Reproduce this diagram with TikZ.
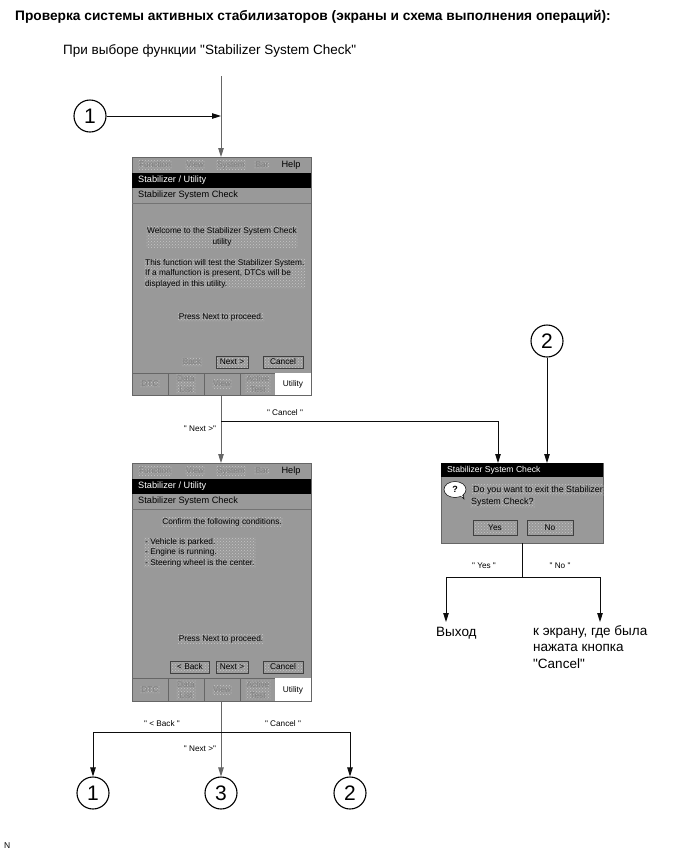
\documentclass[tikz,border=0pt]{standalone}
\usepackage{fontspec}
\setmainfont{Liberation Sans}[Ligatures=TeXOff]
\usetikzlibrary{arrows.meta,patterns}
\definecolor{scr}{gray}{0.6}
\definecolor{flow}{gray}{0.05}
\colorlet{speckc}{white!45!scr}
\tikzset{
  x=1pt,y=-1pt,
  flowline/.style={draw=flow,line width=0.9pt},
  flowarrow/.style={flowline,-{Triangle[length=9pt,width=5.5pt]}},
  callout/.style={circle,draw=black,line width=1.1pt,fill=white,minimum size=32pt,inner sep=0pt,font=\fontsize{21}{21}\selectfont},
  screenbody/.style={fill=scr,draw=black!60,line width=.5pt},
  uitext/.style={font=\fontsize{8.3}{10.5}\selectfont,text=black,inner sep=1pt,align=center},
  bigui/.style={uitext,font=\fontsize{9.2}{11}\selectfont},
  speck/.style={uitext,pattern=crosshatch dots,pattern color=speckc},
  dim/.style={speck,text=black!50},
  btn/.style={draw=black!75,line width=.5pt,uitext,inner sep=0pt,pattern=crosshatch dots,pattern color=speckc},
  lab/.style={font=\fontsize{8.2}{9}\selectfont,inner sep=0pt},
  outtext/.style={font=\fontsize{13.5}{16.5}\selectfont,align=left,anchor=north west,inner sep=0pt},
  tabcell/.style={draw=black!60,line width=.5pt,fill=scr},
}
\begin{document}
\begin{tikzpicture}
\useasboundingbox (0,0) rectangle (690,855);
\fill[white] (0,0) rectangle (690,855);

\node[anchor=west,inner sep=0pt,font=\fontsize{13.72}{14}\selectfont\bfseries] (title) at (15,17) {Проверка системы активных стабилизаторов (экраны и схема выполнения операций):};
\node[anchor=west,inner sep=0pt,font=\fontsize{13.5}{14}\selectfont] (intro) at (63,51) {При выборе функции "Stabilizer System Check"};
\node[anchor=west,inner sep=0pt,font=\fontsize{8.5}{10}\selectfont] (n) at (4,846) {N};

% ---------- screen 1
\node[screenbody,anchor=north west,minimum width=179pt,minimum height=238pt,inner sep=0pt] (s1) at (132,157) {};
\fill[black] (132,172.5) rectangle (311,188);
\node[bigui,text=white,anchor=west] (s1t) at (137,180) {Stabilizer / Utility};
\node[bigui,anchor=west] (s1u) at (137,195.5) {Stabilizer System Check};
\draw[black!55,line width=.5pt] (132,203.5) -- (311,203.5);
\node[dim] (s1m1) at (155,165) {Function};
\node[dim] (s1m2) at (195,165) {View};
\node[dim] (s1m3) at (231,165) {System};
\node[dim] (s1m4) at (262,165) {Bar};
\node[bigui] (s1m5) at (291,165) {Help};
\node[speck] (s1a) at (222,237) {Welcome to the Stabilizer System Check\\utility};
\node[speck,align=left,anchor=north west] (s1b) at (144,258) {This function will test the Stabilizer System.\\If a malfunction is present, DTCs will be\\displayed in this utility.};
\node[speck] (s1c) at (221,317) {Press Next to proceed.};
\node[dim] (s1d) at (192,362) {Back};
\node[btn,minimum width=32pt,minimum height=12pt] (s1e) at (232,362) {Next >};
\node[btn,minimum width=40pt,minimum height=12pt] (s1f) at (283,362) {Cancel};
\foreach \a/\b in {132/168,168/204,204/240,240/275}{\draw[tabcell] (\a,373) rectangle (\b,395);}
\fill[white] (275,373) rectangle (311,395);
\node[dim] at (150,384) {DTC};
\node[dim] at (186,384) {Data\\List};
\node[dim] at (222,384) {View};
\node[dim] at (258,384) {Active\\Test};
\node[uitext] at (293,384) {Utility};

% ---------- screen 2
\node[screenbody,anchor=north west,minimum width=179pt,minimum height=238pt,inner sep=0pt] (s2) at (132,463) {};
\fill[black] (132,478.5) rectangle (311,494);
\node[bigui,text=white,anchor=west] (s2t) at (137,486) {Stabilizer / Utility};
\node[bigui,anchor=west] (s2u) at (137,501) {Stabilizer System Check};
\draw[black!55,line width=.5pt] (132,509.5) -- (311,509.5);
\node[dim] (s2m1) at (155,471) {Function};
\node[dim] (s2m2) at (195,471) {View};
\node[dim] (s2m3) at (231,471) {System};
\node[dim] (s2m4) at (262,471) {Bar};
\node[bigui] (s2m5) at (291,471) {Help};
\node[speck] (s2a) at (222,522) {Confirm the following conditions.};
\node[speck,align=left,anchor=north west] (s2b) at (144,537) {- Vehicle is parked.\\- Engine is running.\\- Steering wheel is the center.};
\node[speck] (s2c) at (221,639) {Press Next to proceed.};
\node[btn,minimum width=39pt,minimum height=12pt] (s2d) at (190,667) {< Back};
\node[btn,minimum width=32pt,minimum height=12pt] (s2e) at (232,667) {Next >};
\node[btn,minimum width=40pt,minimum height=12pt] (s2f) at (283,667) {Cancel};
\foreach \a/\b in {132/168,168/204,204/240,240/275}{\draw[tabcell] (\a,678) rectangle (\b,701);}
\fill[white] (275,678) rectangle (311,701);
\node[dim] at (150,690) {DTC};
\node[dim] at (186,690) {Data\\List};
\node[dim] at (222,690) {View};
\node[dim] at (258,690) {Active\\Test};
\node[uitext] at (293,690) {Utility};

% ---------- dialog
\node[screenbody,anchor=north west,minimum width=162pt,minimum height=80pt,inner sep=0pt] (d) at (441,463) {};
\fill[black] (441,463) rectangle (603,477);
\node[uitext,font=\fontsize{8.6}{10}\selectfont,text=white,anchor=west] (dt) at (446,470) {Stabilizer System Check};
\fill[white,draw=black,line width=.5pt] (460,495) -- (464,499) -- (463,493) -- cycle;
\draw[fill=white,draw=black,line width=.5pt] (455,489.5) ellipse (11 and 8);
\fill[white] (459,493) -- (462,497) -- (462,492) -- cycle;
\node[font=\fontsize{9}{9}\selectfont\bfseries,inner sep=0pt] (dq) at (455,489) {?};
\node[speck,font=\fontsize{8.9}{10}\selectfont] (dx) at (538,490) {Do you want to exit the Stabilizer};
\node[speck,font=\fontsize{8.9}{10}\selectfont,anchor=west] (dy) at (470,502.5) {System Check?};
\node[btn,minimum width=44pt,minimum height=15pt] (dyes) at (495,527.5) {Yes};
\node[btn,minimum width=46pt,minimum height=15pt] (dno) at (550,527.5) {No};

% ---------- circles
\node[callout] (c1) at (90,116) {1};
\node[callout] (c2) at (547,341) {2};
\node[callout] (b1) at (93,793) {1};
\node[callout] (b3) at (221,793) {3};
\node[callout] (b2) at (350,793) {2};

% ---------- connectors
\coordinate (top) at (221,76);
\coordinate (s1in) at (221,157);
\coordinate (s1out) at (221,395);
\coordinate (s2in) at (221,463);
\coordinate (j1) at (221,421);
\coordinate (dinL) at (498,463);
\coordinate (c2in) at (547,463);
\coordinate (j1r) at (498,421);
\draw[flowarrow,draw=black!60] (top) -- (s1in);
\draw[flowarrow] (c1) -- (221,116);
\draw[flowarrow,draw=black!60] (s1out) -- (s2in);
\draw[flowarrow] (j1) -- (j1r) -- (dinL);
\draw[flowarrow] (c2) -- (c2in);

\coordinate (dout) at (522,543);
\coordinate (j2) at (522,577);
\coordinate (j2l) at (446,577);
\coordinate (j2r) at (600,577);
\draw[flowline] (dout) -- (j2);
\draw[flowarrow] (j2) -- (j2l) -- (446,622);
\draw[flowarrow] (j2) -- (j2r) -- (600,622);

\coordinate (s2out) at (221,701);
\coordinate (j3) at (221,732);
\draw[flowarrow,draw=black!60] (s2out) -- (b3);
\draw[flowarrow] (j3) -- (93,732) -- (b1);
\draw[flowarrow] (j3) -- (350,732) -- (b2);

% ---------- labels
\node[lab] at (200,429) {" Next >"};
\node[lab] at (285,413) {" Cancel "};
\node[lab] at (484,566) {" Yes "};
\node[lab] at (560,566) {" No "};
\node[lab] at (162,724) {" < Back "};
\node[lab] at (283,724) {" Cancel "};
\node[lab] at (200,749) {" Next >"};

\node[outtext] (o1) at (436,627) {Выход};
\node[outtext] (o2) at (533,625) {к экрану, где была\\нажата кнопка\\"Cancel"};
\end{tikzpicture}
\end{document}
